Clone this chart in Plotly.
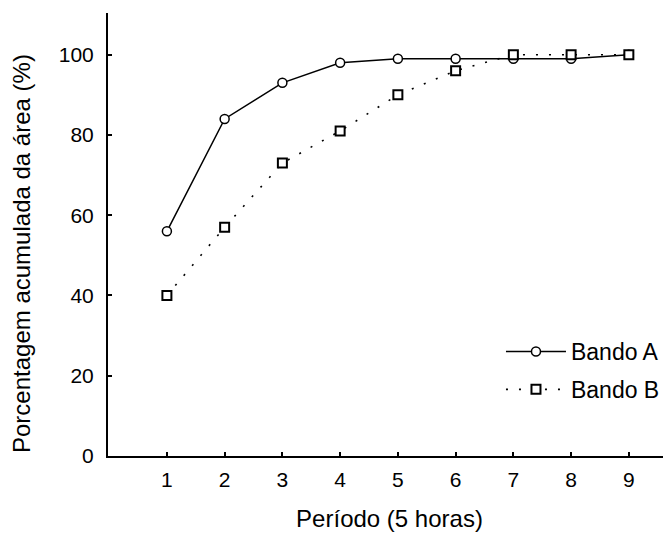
import plotly.graph_objects as go

periodo = [1, 2, 3, 4, 5, 6, 7, 8, 9]
bando_a = [56, 84, 93, 98, 99, 99, 99, 99, 100]
bando_b = [40, 57, 73, 81, 90, 96, 100, 100, 100]
x_ticks = [1, 2, 3, 4, 5, 6, 7, 8, 9]
y_ticks = [0, 20, 40, 60, 80, 100]

FONT = "Liberation Sans, Arial, sans-serif"

# The page body adds an 8px offset, so the figure is sized to the visible area.
W, H = 663, 525
L, T, B = 100, 5, 77
plot_h = H - T - B

fig = go.Figure()
fig.add_trace(go.Scatter(
    x=periodo, y=bando_a, name="Bando A", mode="lines+markers",
    legendgroup="a",
    line=dict(color="black", width=1.5),
    marker=dict(symbol="circle", size=9, color="white",
                line=dict(color="black", width=1.5)),
))
fig.add_trace(go.Scatter(
    x=periodo, y=bando_b, name="Bando B", mode="lines+markers",
    legendgroup="b",
    line=dict(color="black", width=1.6, dash="2px,11px"),
    marker=dict(symbol="square", size=9, color="white",
                line=dict(color="black", width=2)),
))

fig.update_layout(
    width=W, height=H,
    margin=dict(l=L, r=0, t=T, b=B),
    paper_bgcolor="white", plot_bgcolor="white",
    font=dict(family=FONT, size=21, color="black"),
    showlegend=True,
    legend=dict(x=0.698, xanchor="left", y=(448 - 322) / plot_h, yanchor="top",
                bgcolor="rgba(0,0,0,0)", font=dict(size=23),
                itemwidth=60, tracegroupgap=5),
    xaxis=dict(
        range=[-0.02, 9.73], tickmode="array", tickvals=x_ticks,
        ticks="inside", ticklen=4, tickwidth=1.5, tickcolor="black",
        ticklabelstandoff=4,
        showline=True, linecolor="black", linewidth=2,
        showgrid=False, zeroline=False,
        title=dict(text="Período (5 horas)", standoff=20, font=dict(size=24)),
    ),
    yaxis=dict(
        range=[0, 110.4], tickmode="array", tickvals=y_ticks,
        ticks="inside", ticklen=4, tickwidth=1.5, tickcolor="black",
        ticklabelstandoff=8,
        showline=True, linecolor="black", linewidth=2,
        showgrid=False, zeroline=False,
    ),
    annotations=[dict(
        text="Porcentagem acumulada da área (%)", textangle=-90,
        xref="paper", yref="paper", x=0, y=(448 - 246) / plot_h,
        xanchor="center", yanchor="middle", xshift=-87,
        showarrow=False, font=dict(size=24),
    )],
)

fig.write_html("out.html")
